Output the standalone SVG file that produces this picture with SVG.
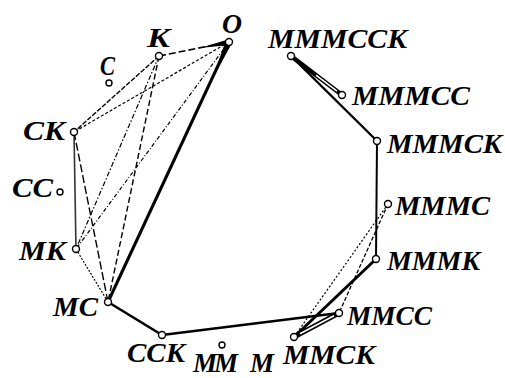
<svg xmlns="http://www.w3.org/2000/svg" width="505" height="378" viewBox="0 0 505 378">
<style>
text{font-family:"Liberation Serif","Times New Roman",serif;font-weight:bold;font-style:italic;font-size:27px;fill:#000}
.n{fill:#fff;stroke:#000;stroke-width:1.4}
.c line{stroke:#000;fill:none}
</style>
<rect width="505" height="378" fill="#fff"/>
<g id="connectors" class="c">
<line x1="159" y1="56" x2="229" y2="42" stroke-width="1.6" stroke-dasharray="7 3"/>
<polygon points="200,48 228,39.5 229.5,45" fill="#000"/>
<line x1="159" y1="56" x2="74" y2="132" stroke-width="1.4" stroke-dasharray="5 1.5"/>
<line x1="229" y1="42" x2="74" y2="132" stroke-width="1.2" stroke-dasharray="3 2"/>
<line x1="159" y1="56" x2="76" y2="249" stroke-width="1.2" stroke-dasharray="5 2 1.5 2"/>
<line x1="159" y1="56" x2="108" y2="302" stroke-width="1.4" stroke-dasharray="6 3"/>
<line x1="229" y1="42" x2="76" y2="249" stroke-width="1.2" stroke-dasharray="4 2 1 2"/>
<line x1="229" y1="42" x2="108" y2="302" stroke-width="3"/>
<polygon points="226,40 232,43 212,80" fill="#000"/>
<line x1="74" y1="132" x2="76" y2="249" stroke-width="1.6" style="stroke:#333"/>
<line x1="74" y1="132" x2="108" y2="302" stroke-width="1.4" stroke-dasharray="8 3"/>
<line x1="76" y1="249" x2="108" y2="302" stroke-width="1.2" stroke-dasharray="2 1.5"/>
<line x1="108" y1="302" x2="162" y2="335" stroke-width="2.6"/>
<line x1="162" y1="335" x2="339" y2="313" stroke-width="2.6"/>
<line x1="376" y1="259" x2="294" y2="337" stroke-width="3"/>
<line x1="294" y1="337" x2="339" y2="313" stroke-width="5"/>
<line x1="300" y1="333.8" x2="334" y2="315.7" stroke-width="1.8" style="stroke:#fff"/>
<line x1="388" y1="204" x2="294" y2="337" stroke-width="1.2" stroke-dasharray="2 2"/>
<line x1="388" y1="204" x2="339" y2="313" stroke-width="1.3" stroke-dasharray="4 2"/>
<line x1="377" y1="141" x2="376" y2="259" stroke-width="2"/>
<line x1="291" y1="56" x2="377" y2="141" stroke-width="2.4"/>
<line x1="291" y1="56" x2="342" y2="95" stroke-width="4.5"/>
<line x1="316" y1="75.1" x2="337" y2="91.2" stroke-width="1.5" style="stroke:#fff"/>
</g>
<g id="node-O"><circle class="n" cx="229" cy="42" r="3.5"/><text x="222" y="33" textLength="20" lengthAdjust="spacingAndGlyphs">O</text></g>
<g id="node-K"><circle class="n" cx="159" cy="56" r="3.5"/><text x="147" y="47" textLength="23" lengthAdjust="spacingAndGlyphs">K</text></g>
<g id="node-C"><circle class="n" cx="109" cy="83" r="3"/><text x="100" y="75" textLength="15" lengthAdjust="spacingAndGlyphs">C</text></g>
<g id="node-CK"><circle class="n" cx="74" cy="132" r="3.5"/><text x="23" y="140" textLength="42" lengthAdjust="spacingAndGlyphs">CK</text></g>
<g id="node-CC"><circle class="n" cx="60" cy="192" r="3"/><text x="12" y="197" textLength="41" lengthAdjust="spacingAndGlyphs">CC</text></g>
<g id="node-MK"><circle class="n" cx="76" cy="249" r="3.5"/><text x="19" y="260" textLength="47" lengthAdjust="spacingAndGlyphs">MK</text></g>
<g id="node-MC"><circle class="n" cx="108" cy="302" r="3.5"/><text x="53" y="316" textLength="45" lengthAdjust="spacingAndGlyphs">MC</text></g>
<g id="node-CCK"><circle class="n" cx="162" cy="335" r="3.5"/><text x="127" y="362" textLength="58" lengthAdjust="spacingAndGlyphs">CCK</text></g>
<g id="node-MMM"><circle class="n" cx="222" cy="345" r="3"/><text x="193 214 250" y="372">MMM</text></g>
<g id="node-MMCK"><circle class="n" cx="294" cy="337" r="3.5"/><text x="283" y="364" textLength="92" lengthAdjust="spacingAndGlyphs">MMCK</text></g>
<g id="node-MMCC"><circle class="n" cx="339" cy="313" r="3.5"/><text x="347" y="325" textLength="85" lengthAdjust="spacingAndGlyphs">MMCC</text></g>
<g id="node-MMMK"><circle class="n" cx="376" cy="259" r="3.5"/><text x="387" y="270" textLength="93" lengthAdjust="spacingAndGlyphs">MMMK</text></g>
<g id="node-MMMC"><circle class="n" cx="388" cy="204" r="3.5"/><text x="395" y="215" textLength="95" lengthAdjust="spacingAndGlyphs">MMMC</text></g>
<g id="node-MMMCK"><circle class="n" cx="377" cy="141" r="3.5"/><text x="387" y="153" textLength="115" lengthAdjust="spacingAndGlyphs">MMMCK</text></g>
<g id="node-MMMCC"><circle class="n" cx="342" cy="95" r="3.5"/><text x="352" y="105" textLength="118" lengthAdjust="spacingAndGlyphs">MMMCC</text></g>
<g id="node-MMMCCK"><circle class="n" cx="291" cy="56" r="3.5"/><text x="268" y="48" textLength="139" lengthAdjust="spacingAndGlyphs">MMMCCK</text></g>
</svg>
